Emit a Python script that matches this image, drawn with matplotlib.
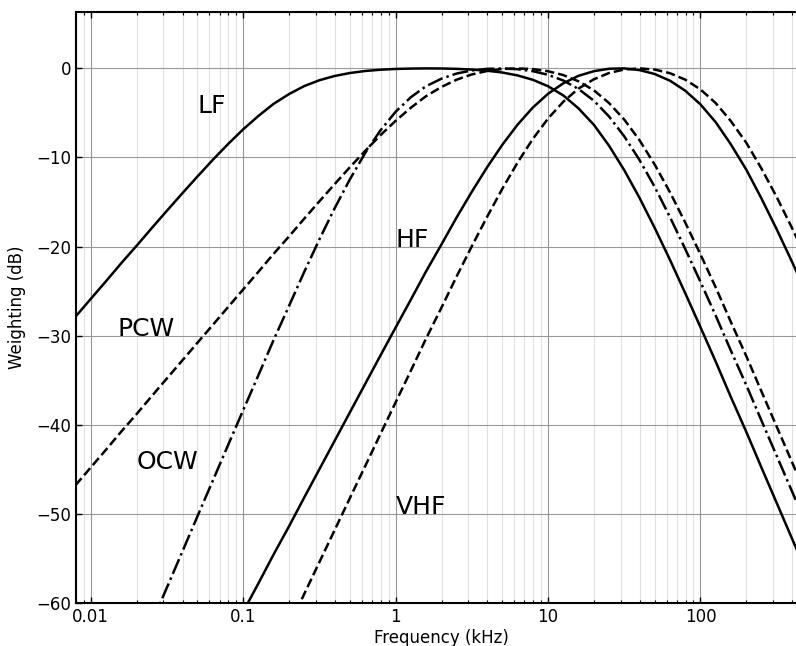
import matplotlib
matplotlib.use("Agg")
import matplotlib.pyplot as plt
from matplotlib.ticker import FixedLocator, LogLocator, NullFormatter

# Frequency grid (kHz)
freq_khz = [0.00794, 0.01, 0.0126, 0.0158, 0.02, 0.0251, 0.0316, 0.0398, 0.0501, 0.0631, 0.0794,
            0.1, 0.126, 0.158, 0.2, 0.251, 0.316, 0.398, 0.501, 0.631, 0.794,
            1.0, 1.26, 1.58, 2.0, 2.51, 3.16, 3.98, 5.01, 6.31, 7.94,
            10.0, 12.6, 15.8, 20.0, 25.1, 31.6, 39.8, 50.1, 63.1, 79.4,
            100.0, 126.0, 158.0, 200.0, 251.0, 316.0, 398.0, 501.0]

lf_db = [-27.88, -25.88, -23.89, -21.90, -19.91, -17.94, -15.98, -14.04, -12.14, -10.28, -8.51,
         -6.84, -5.33, -3.99, -2.88, -1.99, -1.33, -0.85, -0.52, -0.29, -0.15,
         -0.06, -0.02, 0.00, -0.01, -0.05, -0.13, -0.26, -0.46, -0.79, -1.28,
         -2.00, -3.04, -4.47, -6.34, -8.67, -11.42, -14.53, -17.91, -21.50, -25.23,
         -29.06, -32.94, -36.87, -40.83, -44.80, -48.78, -52.77, -56.76]

hf_db = [-96.21, -93.01, -89.81, -86.61, -83.41, -80.21, -77.01, -73.81, -70.61, -67.41, -64.21,
         -61.01, -57.81, -54.61, -51.41, -48.21, -45.02, -41.82, -38.63, -35.44, -32.26,
         -29.10, -25.95, -22.83, -19.76, -16.75, -13.86, -11.11, -8.58, -6.32, -4.40,
         -2.85, -1.67, -0.84, -0.31, -0.04, 0.00, -0.19, -0.63, -1.38, -2.50,
         -4.04, -6.05, -8.51, -11.38, -14.59, -18.05, -21.69, -25.46]

vhf_db = [-113.05, -109.45, -105.85, -102.25, -98.65, -95.05, -91.45, -87.85, -84.25, -80.65, -77.05,
          -73.45, -69.85, -66.25, -62.65, -59.05, -55.45, -51.85, -48.26, -44.67, -41.08,
          -37.50, -33.93, -30.38, -26.86, -23.38, -19.98, -16.68, -13.52, -10.58, -7.93,
          -5.63, -3.74, -2.28, -1.22, -0.52, -0.12, 0.00, -0.13, -0.54, -1.26,
          -2.36, -3.90, -5.90, -8.36, -11.23, -14.43, -17.89, -21.53]

pcw_db = [-46.81, -44.81, -42.81, -40.81, -38.81, -36.81, -34.81, -32.81, -30.81, -28.82, -26.82,
          -24.82, -22.83, -20.84, -18.86, -16.89, -14.93, -13.00, -11.10, -9.27, -7.51,
          -5.89, -4.41, -3.13, -2.08, -1.27, -0.68, -0.29, -0.07, 0.00, -0.08,
          -0.32, -0.75, -1.44, -2.46, -3.88, -5.74, -8.06, -10.80, -13.91, -17.30,
          -20.88, -24.61, -28.44, -32.32, -36.25, -40.21, -44.18, -48.16]

ocw_db = [-82.29, -78.29, -74.29, -70.29, -66.29, -62.29, -58.29, -54.30, -50.30, -46.32, -42.34,
          -38.38, -34.43, -30.53, -26.66, -22.88, -19.21, -15.71, -12.46, -9.51, -6.97,
          -4.87, -3.23, -2.01, -1.15, -0.58, -0.23, -0.05, -0.01, -0.09, -0.31,
          -0.72, -1.36, -2.30, -3.63, -5.39, -7.62, -10.28, -13.31, -16.70, -20.27,
          -23.97, -27.78, -31.66, -35.58, -39.53, -43.49, -47.47, -51.46]

x_ticks = [0.01, 0.1, 1, 10, 100]
x_tick_labels = ["0.01", "0.1", "1", "10", "100"]
y_ticks = [-60, -50, -40, -30, -20, -10, 0]
y_tick_labels = ["\u221260", "\u221250", "\u221240", "\u221230", "\u221220", "\u221210", "0"]

labels = ["LF", "PCW", "OCW", "HF", "VHF"]
label_freq = [0.05, 0.015, 0.02, 1.0, 1.0]
label_db = [-5, -30, -45, -20, -50]

fig = plt.figure(figsize=(7.96, 6.46), dpi=100)
ax = fig.add_axes([76 / 796, 43.3 / 646, 731 / 796, 590.4 / 646])

lw = 1.8
ax.plot(freq_khz, lf_db, color="black", lw=lw, ls="-")
ax.plot(freq_khz, hf_db, color="black", lw=lw, ls="-")
ax.plot(freq_khz, vhf_db, color="black", lw=lw, ls="--")
ax.plot(freq_khz, pcw_db, color="black", lw=lw, ls="--")
ax.plot(freq_khz, ocw_db, color="black", lw=lw, ls="-.")

ax.set_xscale("log")
ax.set_xlim(0.008, 500)
ax.set_ylim(-60, 6.3)

ax.xaxis.set_major_locator(FixedLocator(x_ticks))
ax.set_xticklabels(x_tick_labels)
ax.xaxis.set_minor_locator(LogLocator(base=10, subs=[2, 3, 4, 5, 6, 7, 8, 9], numticks=20))
ax.xaxis.set_minor_formatter(NullFormatter())
ax.set_yticks(y_ticks)
ax.set_yticklabels(y_tick_labels)

ax.tick_params(which="both", direction="in", top=True, right=True, labelsize=12, colors="black")
ax.tick_params(which="major", length=4, width=1)
ax.tick_params(which="minor", length=2.5, width=0.8)
ax.tick_params(axis="x", which="major", pad=4)

ax.grid(which="major", color="0.6", lw=0.8)
ax.grid(which="minor", axis="x", color="0.88", lw=0.8)
ax.set_axisbelow(True)

for s in ax.spines.values():
    s.set_linewidth(1.5)

for t, f, d in zip(labels, label_freq, label_db):
    ax.text(f, d, t, fontsize=18, color="black")

ax.set_xlabel("Frequency (kHz)", fontsize=12)
ax.set_ylabel("Weighting (dB)", fontsize=12)
ax.xaxis.set_label_coords(0.5, -0.045)
ax.yaxis.set_label_coords(-0.068, 0.5)

fig.savefig("out.png", dpi=100)
